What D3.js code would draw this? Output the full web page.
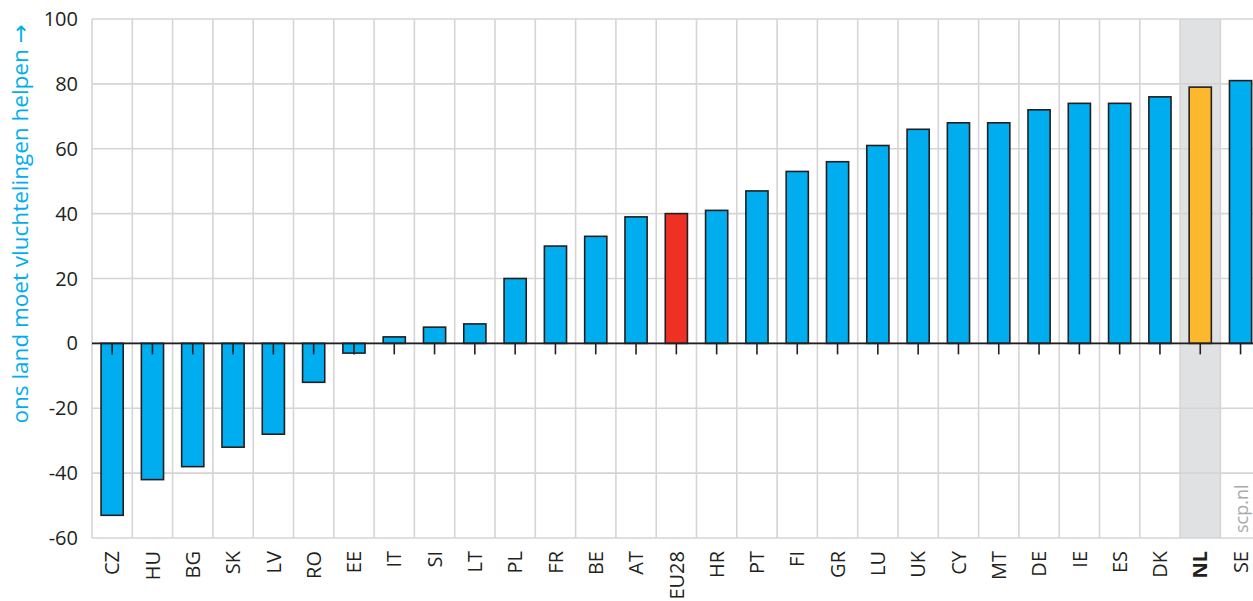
<!DOCTYPE html>
<html>
<head>
<meta charset="utf-8">
<style>
    body { margin: 0; background: #fff; }
    svg { display: block; font-family: 'Open Sans', sans-serif; }
</style>
</head>
<body>
<svg width="1253" height="601"></svg>
<script src="https://d3js.org/d3.v7.min.js"></script>
<script>

    let countries = ["CZ", "HU", "BG", "SK", "LV", "RO", "EE", "IT", "SI", "LT", "PL", "FR", "BE", "AT", "EU28",
        "HR", "PT", "FI", "GR", "LU", "UK", "CY", "MT", "DE", "IE", "ES", "DK", "NL", "SE"];
    let values = [-53, -42, -38, -32, -28, -12, -3, 2, 5, 6, 20, 30, 33, 39, 40,
        41, 47, 53, 56, 61, 66, 68, 68, 72, 74, 74, 76, 79, 81];
    let yTicks = [-60, -40, -20, 0, 20, 40, 60, 80, 100];

    let plotLeft = 92, plotTop = 19, plotBottom = 538;
    let bandW = 40.3;

    let svg = d3.select("svg");

    let x = d3.scaleBand()
        .domain(countries)
        .range([plotLeft, plotLeft + bandW * countries.length])
        .paddingInner(0.45)
        .paddingOuter(0.225);

    let y = d3.scaleLinear()
        .domain([-60, 100])
        .range([plotBottom, plotTop]);

    let step = x.step();
    let colStart = d => x(d) - step * x.paddingInner() / 2;

    // highlight band for NL
    svg.append("rect")
        .attr("x", colStart("NL"))
        .attr("y", y(100))
        .attr("width", step)
        .attr("height", y(-60) - y(100))
        .style("fill", "#e0e1e3");

    // grid
    let grid = svg.append("g").style("stroke", "#d5d5d5").style("stroke-width", 1.6);
    grid.selectAll(".h")
        .data(yTicks)
        .join("line")
        .attr("class", "h")
        .attr("x1", plotLeft)
        .attr("x2", 1253)
        .attr("y1", d => y(d))
        .attr("y2", d => y(d));
    grid.selectAll(".v")
        .data(countries)
        .join("line")
        .attr("class", "v")
        .attr("x1", d => colStart(d))
        .attr("x2", d => colStart(d))
        .attr("y1", y(100))
        .attr("y2", y(-60));

    // bars
    svg.append("g")
        .selectAll("rect")
        .data(countries)
        .join("rect")
        .attr("x", d => x(d))
        .attr("width", x.bandwidth())
        .attr("y", (d, i) => y(Math.max(0, values[i])))
        .attr("height", (d, i) => Math.abs(y(values[i]) - y(0)))
        .style("fill", d => d == "EU28" ? "#ee3124" : d == "NL" ? "#fdb92e" : "#00aeef")
        .style("stroke", "#231f20")
        .style("stroke-width", 1.6);

    // zero line + ticks
    svg.append("line")
        .attr("x1", plotLeft)
        .attr("x2", 1253)
        .attr("y1", y(0))
        .attr("y2", y(0))
        .style("stroke", "#231f20")
        .style("stroke-width", 1.6);

    svg.append("g")
        .selectAll("line")
        .data(countries)
        .join("line")
        .attr("x1", d => x(d) + x.bandwidth() / 2)
        .attr("x2", d => x(d) + x.bandwidth() / 2)
        .attr("y1", y(0))
        .attr("y2", y(0) + 11)
        .style("stroke", "#231f20")
        .style("stroke-width", 1.6);

    // y tick labels
    svg.append("g")
        .selectAll("text")
        .data(yTicks)
        .join("text")
        .attr("x", 78)
        .attr("y", d => y(d))
        .attr("dy", "0.35em")
        .attr("text-anchor", "end")
        .style("font-size", "20px")
        .style("fill", "#231f20")
        .text(d => d);

    // x labels
    svg.append("g")
        .selectAll("text")
        .data(countries)
        .join("text")
        .attr("transform", d => "translate(" + (x(d) + x.bandwidth() / 2) + ",551) rotate(-90)")
        .attr("dy", "0.36em")
        .attr("text-anchor", "end")
        .style("font-size", "20px")
        .style("font-weight", d => d == "NL" ? "bold" : "normal")
        .style("fill", "#231f20")
        .text(d => d);

    // y title
    let title = svg.append("text")
        .attr("transform", "translate(20,224) rotate(-90)")
        .attr("dy", "0.35em")
        .attr("text-anchor", "middle")
        .style("font-size", "22.5px")
        .style("fill", "#00aeef");
    title.append("tspan").text("ons land moet vluchtelingen helpen ");
    title.append("tspan").style("font-family", "'DejaVu Sans'").text("\u2192");

    // source
    svg.append("text")
        .attr("transform", "translate(" + (x("SE") + x.bandwidth() / 2 + 1) + ",533) rotate(-90)")
        .attr("dy", "0.35em")
        .style("font-size", "18px")
        .style("fill", "#aaaaaa")
        .text("scp.nl");

</script>
</body>
</html>
